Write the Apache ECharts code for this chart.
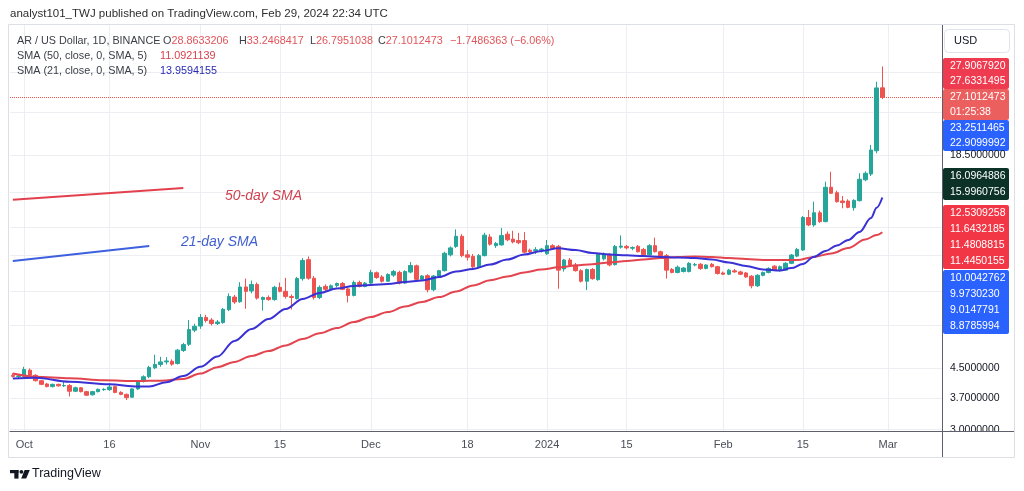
<!DOCTYPE html>
<html>
<head>
<meta charset="utf-8">
<script src="https://cdn.jsdelivr.net/npm/echarts/dist/echarts.min.js"></script>
<style>
html,body{margin:0;padding:0;background:#fff;}
#main{width:1024px;height:491px;}
</style>
</head>
<body>
<div id="main"></div>
<script>
const FONT = '"Liberation Sans", Arial, sans-serif';

// ---------- categories (daily) ----------
const firstDate = '2023-09-29';
const dayCount = 164;
const categories = [];
{
  const t0 = Date.parse(firstDate + 'T00:00:00Z');
  for (let i = 0; i < dayCount; i++) categories.push(new Date(t0 + i * 86400000).toISOString().slice(0, 10));
}

// ---------- axis ticks ----------
const tickDates  = ['2023-10-01','2023-10-16','2023-11-01','2023-11-15','2023-12-01','2023-12-18','2024-01-01','2024-01-15','2024-02-01','2024-02-15','2024-03-01'];
const tickLabels = ['Oct','16','Nov','15','Dec','18','2024','15','Feb','15','Mar'];
const priceGridValues = [3.0, 3.7, 4.5, 6.0, 7.5, 9.5, 11.5, 14.5, 18.5, 24.5, 32.0];
const priceTickLabels = [18.5, 4.5, 3.7, 3.0];

// ---------- candles: [open, high, low, close], daily from 2023-09-29 ----------
const candles = [
[4.30,4.36,4.24,4.27],[4.27,4.33,4.22,4.28],[4.27,4.55,4.24,4.47],[4.45,4.50,4.27,4.30],[4.30,4.33,4.13,4.15],
[4.15,4.17,4.03,4.05],[4.06,4.09,3.97,3.99],[3.99,4.07,3.97,4.05],[4.05,4.07,3.99,4.01],[4.01,4.12,3.98,4.02],
[4.02,4.06,3.74,3.87],[3.87,3.99,3.85,3.96],[3.96,3.98,3.84,3.86],[3.86,3.88,3.75,3.77],[3.78,3.88,3.76,3.86],
[3.86,3.94,3.84,3.92],[3.91,3.95,3.88,3.92],[3.91,4.08,3.88,3.98],[3.99,4.02,3.82,3.84],[3.84,3.87,3.77,3.79],
[3.79,3.81,3.65,3.71],[3.72,3.95,3.70,3.93],[3.93,4.16,3.90,4.13],[4.13,4.30,4.10,4.26],[4.26,4.58,4.22,4.53],
[4.52,4.93,4.48,4.62],[4.62,4.86,4.55,4.70],[4.70,4.85,4.62,4.73],[4.72,4.78,4.58,4.63],[4.65,5.12,4.62,5.08],
[5.07,5.33,5.02,5.27],[5.28,6.20,5.22,5.82],[5.80,6.05,5.72,5.95],[5.96,6.45,5.85,6.31],[6.31,6.42,6.10,6.18],
[6.20,6.28,5.98,6.06],[6.06,6.20,6.00,6.12],[6.10,6.72,6.05,6.66],[6.64,7.40,6.58,7.25],[7.22,7.32,6.90,6.99],
[7.00,7.97,6.95,7.72],[7.72,8.16,6.68,7.50],[7.52,8.05,7.40,7.85],[7.85,7.95,7.10,7.17],[7.10,7.25,6.60,7.20],
[7.20,7.30,7.05,7.10],[7.10,7.78,7.05,7.70],[7.70,7.95,7.45,7.50],[7.50,8.20,7.15,7.25],[7.25,7.35,6.65,7.20],
[7.15,8.25,7.10,8.16],[8.16,9.35,8.05,9.20],[9.25,9.45,8.10,8.18],[8.18,8.30,7.10,7.20],[7.20,7.80,7.12,7.70],
[7.75,7.85,7.50,7.60],[7.60,7.85,7.55,7.78],[7.80,7.95,7.70,7.90],[7.90,7.98,7.55,7.60],[7.62,7.70,6.97,7.30],
[7.30,8.05,7.25,7.95],[7.95,8.05,7.70,7.75],[7.75,7.98,7.70,7.92],[7.92,8.65,7.85,8.50],[8.48,8.55,8.15,8.22],
[8.25,8.35,7.95,8.02],[8.02,8.45,7.98,8.38],[8.35,8.65,8.25,8.55],[8.50,8.60,7.85,7.92],[7.92,8.62,7.88,8.55],
[8.52,9.10,8.45,8.90],[8.88,8.95,8.05,8.12],[8.12,8.35,8.05,8.30],[8.32,8.40,7.45,7.58],[7.58,8.35,7.50,8.30],
[8.30,8.65,8.25,8.60],[8.60,9.75,8.55,9.65],[9.55,10.10,9.45,10.00],[10.10,11.30,10.00,10.80],[10.80,10.95,9.40,9.50],
[9.55,9.85,9.20,9.40],[9.45,9.60,8.70,8.82],[8.82,9.60,8.75,9.50],[9.50,11.05,9.45,10.88],[10.75,10.95,10.15,10.25],
[10.15,10.40,10.00,10.30],[10.20,11.40,10.15,10.85],[10.95,11.15,10.45,10.55],[10.60,11.20,10.30,10.40],[10.50,11.05,10.25,10.35],
[10.50,11.10,9.65,9.72],[9.85,9.95,9.65,9.75],[9.82,10.05,9.60,9.88],[9.88,10.00,9.70,9.92],[9.62,10.54,9.55,10.15],
[10.15,10.25,9.90,9.95],[10.10,10.20,7.63,8.63],[8.70,9.30,8.55,9.23],[9.23,9.35,8.85,8.93],[8.93,9.05,8.55,8.60],
[8.60,8.68,7.95,8.02],[8.02,8.72,7.56,8.67],[8.67,8.75,8.10,8.16],[8.10,9.65,8.05,9.58],[9.30,9.70,9.20,9.60],
[9.58,9.65,8.85,8.93],[8.95,10.20,8.90,10.10],[10.05,10.86,9.95,10.12],[10.10,10.20,9.90,10.00],[9.98,10.10,9.85,10.02],
[10.10,10.20,9.70,9.75],[9.90,10.00,9.50,9.55],[9.55,10.25,9.50,10.15],[10.15,10.70,9.70,9.75],[9.75,9.82,9.40,9.45],
[9.50,9.60,8.16,8.63],[8.67,8.75,8.45,8.50],[8.50,8.90,8.45,8.80],[8.55,8.80,8.50,8.75],[8.55,9.10,8.50,9.03],
[8.93,9.05,8.85,8.95],[8.97,9.05,8.65,8.72],[8.73,8.98,8.68,8.93],[8.97,9.05,8.78,8.83],[8.83,8.88,8.38,8.44],
[8.47,8.55,8.35,8.40],[8.40,8.70,8.35,8.63],[8.59,8.70,8.48,8.53],[8.53,8.60,8.35,8.40],[8.47,8.52,8.20,8.25],
[8.29,8.35,7.65,7.78],[7.78,8.40,7.72,8.34],[8.34,8.55,8.28,8.50],[8.50,8.80,8.45,8.73],[8.86,8.92,8.58,8.63],
[8.60,8.90,8.55,8.83],[8.63,9.10,8.60,9.03],[9.03,9.60,8.98,9.54],[9.47,10.00,9.40,9.90],[9.86,12.35,9.80,12.23],
[12.23,12.85,11.55,11.64],[11.64,13.58,11.50,12.62],[12.62,12.80,11.80,11.90],[11.90,15.50,11.85,14.94],[14.94,16.56,14.30,14.36],
[14.41,14.60,13.50,13.58],[13.64,14.10,13.00,13.50],[13.64,13.80,13.00,13.08],[13.05,13.80,12.80,13.70],[13.67,16.39,13.60,15.75],
[15.70,16.60,15.55,16.39],[16.31,19.78,16.10,19.12],[19.03,30.06,18.71,28.85],[28.8633206,33.2468417,26.7951038,27.1012473]
];
const lastClose = 27.1012473;

// ---------- SMA readings [date, value] ----------
const sma50 = [
['2023-09-29',4.35],['2023-10-03',4.26],['2023-10-09',4.22],['2023-10-15',4.16],['2023-10-21',4.14],['2023-10-25',4.15],
['2023-10-29',4.20],['2023-11-01',4.35],['2023-11-04',4.54],['2023-11-07',4.70],['2023-11-10',4.89],['2023-11-13',5.05],
['2023-11-16',5.24],['2023-11-19',5.47],['2023-11-22',5.68],['2023-11-25',5.88],['2023-11-28',6.12],['2023-12-01',6.33],
['2023-12-04',6.54],['2023-12-07',6.78],['2023-12-10',6.99],['2023-12-13',7.22],['2023-12-16',7.49],['2023-12-19',7.80],
['2023-12-22',8.07],['2023-12-25',8.27],['2023-12-28',8.50],['2023-12-31',8.66],['2024-01-03',8.79],['2024-01-06',8.90],
['2024-01-09',8.98],['2024-01-12',9.08],['2024-01-15',9.17],['2024-01-18',9.26],['2024-01-21',9.35],['2024-01-24',9.42],
['2024-01-27',9.45],['2024-01-30',9.42],['2024-02-02',9.35],['2024-02-05',9.29],['2024-02-08',9.23],['2024-02-11',9.23],
['2024-02-14',9.23],['2024-02-17',9.42],['2024-02-20',9.64],['2024-02-23',9.99],['2024-02-26',10.57],['2024-02-28',10.89],
['2024-02-29',11.0921139]
];
const sma21 = [
['2023-09-29',4.21],['2023-10-03',4.23],['2023-10-09',4.12],['2023-10-16',4.05],['2023-10-21',3.99],['2023-10-23',3.99],
['2023-10-26',4.11],['2023-10-29',4.28],['2023-11-01',4.55],['2023-11-04',4.87],['2023-11-07',5.40],['2023-11-10',5.84],
['2023-11-13',6.24],['2023-11-16',6.67],['2023-11-19',7.13],['2023-11-22',7.42],['2023-11-25',7.64],['2023-11-28',7.77],
['2023-12-01',7.82],['2023-12-04',7.87],['2023-12-07',7.98],['2023-12-10',8.06],['2023-12-13',8.25],['2023-12-16',8.55],
['2023-12-19',8.70],['2023-12-22',8.96],['2023-12-25',9.26],['2023-12-28',9.57],['2023-12-31',9.80],['2024-01-03',9.97],
['2024-01-06',9.86],['2024-01-09',9.67],['2024-01-12',9.57],['2024-01-15',9.52],['2024-01-18',9.48],['2024-01-21',9.42],
['2024-01-24',9.38],['2024-01-27',9.35],['2024-01-30',9.26],['2024-02-02',9.08],['2024-02-05',8.87],['2024-02-08',8.67],
['2024-02-11',8.61],['2024-02-13',8.75],['2024-02-15',8.99],['2024-02-17',9.43],['2024-02-19',9.80],['2024-02-21',10.16],
['2024-02-23',10.54],['2024-02-25',11.11],['2024-02-27',12.19],['2024-02-28',13.05],['2024-02-29',13.9594155]
];

// ---------- drawn annotation segments [date, price] ----------
const annot50Line = [['2023-09-29',13.75],['2023-10-29',14.87]];
const annot21Line = [['2023-09-29',9.17],['2023-10-23',10.12]];

// ---------- texts ----------
const headerText = 'analyst101_TWJ published on TradingView.com, Feb 29, 2024 22:34 UTC';
const symbolTitle = 'AR / US Dollar, 1D, BINANCE';
const ohlcKeys = ['O','H','L','C',''];
const ohlcVals = ['28.8633206','33.2468417','26.7951038','27.1012473','\u22121.7486363 (\u22126.06%)'];
const smaTitles = ['SMA (50, close, 0, SMA, 5)','SMA (21, close, 0, SMA, 5)'];
const smaValues = ['11.0921139','13.9594155'];
const badgeGroups = [
  ['27.9067920','27.6331495'],
  ['27.1012473','01:25:38'],
  ['23.2511465','22.9099992'],
  ['16.0964886','15.9960756'],
  ['12.5309258','11.6432185','11.4808815','11.4450155'],
  ['10.0042762','9.9730230','9.0147791','8.8785994']
];
// styling / layout of the price-scale badges
const badgeLayout = [
  {bg:'#ef3b50', top:58,  row:15.5},
  {bg:'#ec5f5f', top:89,  row:15.5},
  {bg:'#2962ff', top:120, row:15.5},
  {bg:'#0c3127', top:168, row:16},
  {bg:'#f23645', top:205, row:16},
  {bg:'#2962ff', top:270, row:16}
];

const C_UP = '#26a69a', C_DOWN = '#ef5350';
const GRIDLINE = '#eceef2';
const AXIS = '#5d606b';

const chart = echarts.init(document.getElementById('main'), null, {renderer: 'canvas'});
const isTick = (i, v) => tickDates.indexOf(v) >= 0;

const option = {
  animation: false,
  backgroundColor: '#ffffff',
  textStyle: {fontFamily: FONT},
  grid: {left: 10, right: 82, top: 25, bottom: 60, containLabel: false, outerBoundsMode: 'none'},
  xAxis: {
    type: 'category', data: categories, boundaryGap: true,
    axisLine: {show: true, onZero: false, lineStyle: {color: AXIS, width: 1}},
    axisTick: {show: false},
    axisLabel: {
      interval: isTick,
      formatter: v => { const k = tickDates.indexOf(v); return k >= 0 ? tickLabels[k] : ''; },
      color: '#4a4d57', fontSize: 11, margin: 8, fontFamily: FONT, hideOverlap: false
    },
    splitLine: {show: true, interval: isTick, alignWithLabel: true, lineStyle: {color: GRIDLINE, width: 1}}
  },
  yAxis: {
    type: 'log', logBase: 10, min: 2.974, max: 43.76, position: 'right',
    axisLine: {show: true, lineStyle: {color: AXIS, width: 1}},
    axisTick: {show: false}, axisLabel: {show: false}, splitLine: {show: false}
  },
  series: [
    {
      type: 'line', data: [], silent: true, z: 1,
      markLine: {
        silent: true, z: 1, symbol: ['none','none'], label: {show: false}, emphasis: {disabled: true},
        lineStyle: {color: GRIDLINE, width: 1, type: 'solid'},
        data: priceGridValues.map(v => ({yAxis: v}))
      }
    },
    {
      type: 'candlestick', z: 3, barWidth: 4,
      data: candles.map(r => [r[0], r[3], r[2], r[1]]),
      itemStyle: {color: C_UP, color0: C_DOWN, borderColor: C_UP, borderColor0: C_DOWN, borderWidth: 1},
      markLine: {
        silent: true, z: 2, symbol: ['none','none'], label: {show: false}, emphasis: {disabled: true},
        lineStyle: {color: '#ef5350', width: 1, type: 'dotted'},
        data: [{yAxis: lastClose}]
      }
    },
    {
      type: 'line', data: sma50, smooth: 0.35, smoothMonotone: 'x', symbol: 'none', showSymbol: false, silent: true, z: 4,
      lineStyle: {color: '#e2454f', width: 2}
    },
    {
      type: 'line', data: sma21, smooth: 0.35, smoothMonotone: 'x', symbol: 'none', showSymbol: false, silent: true, z: 5,
      lineStyle: {color: '#3a31d4', width: 2}
    },
    {
      type: 'line', data: [], silent: true, z: 4,
      markLine: {
        silent: true, z: 4, symbol: ['none','none'], label: {show: false}, emphasis: {disabled: true},
        data: [
          [{coord: annot50Line[0], lineStyle: {color: '#e3404e', width: 2, type: 'solid'}}, {coord: annot50Line[1]}],
          [{coord: annot21Line[0], lineStyle: {color: '#3d60de', width: 2, type: 'solid'}}, {coord: annot21Line[1]}]
        ]
      }
    }
  ]
};
chart.setOption(option);

// ---------- overlay text / frame ----------
const yPix = v => chart.convertToPixel({yAxisIndex: 0}, v);
const g = [];
const txt = (x, y, text, fill, size, extra) => g.push(Object.assign({
  type: 'text', x: x, y: y, silent: true, z: 10,
  style: Object.assign({text: text, fill: fill, font: size + 'px ' + FONT, verticalAlign: 'middle', align: 'left'}, (extra && extra.style) || {})
}, extra && extra.el || {}));

// frame
g.push({type: 'rect', silent: true, z: 30, shape: {x: 8.5, y: 24.5, width: 1006, height: 433}, style: {fill: 'none', stroke: '#dcdfe6', lineWidth: 1}});

// header
txt(10, 14, headerText, '#2e2e2e', 11.5);

// legend
txt(17, 41, symbolTitle, '#3b3e47', 10.8);
const ohlcX = [163, 239, 310, 378, 450];
ohlcKeys.forEach((k, i) => {
  g.push({type: 'text', x: ohlcX[i], y: 41, silent: true, z: 10,
    style: {text: (k ? '{k|' + k + '}' : '') + '{v|' + ohlcVals[i] + '}', verticalAlign: 'middle', font: '10.8px ' + FONT,
      rich: {k: {fill: '#3b3e47', font: '10.8px ' + FONT}, v: {fill: '#e2545a', font: '10.8px ' + FONT}}}});
});
txt(17, 56, smaTitles[0], '#3b3e47', 10.8);
txt(160, 56, smaValues[0], '#d9404d', 10.8);
txt(17, 71, smaTitles[1], '#3b3e47', 10.8);
txt(160, 71, smaValues[1], '#2a2ab5', 10.8);

// annotation texts
txt(225, 196, '50-day SMA', '#cf4350', 14, {style: {font: 'italic 14px ' + FONT}});
txt(181, 242, '21-day SMA', '#3f5fcf', 14, {style: {font: 'italic 14px ' + FONT}});

// USD box
g.push({type: 'rect', silent: true, z: 10, shape: {x: 944.5, y: 29.5, width: 65, height: 23, r: 4}, style: {fill: '#ffffff', stroke: '#e0e3eb', lineWidth: 1}});
txt(954, 41, 'USD', '#131722', 11);

// price-scale badges
badgeGroups.forEach((rows, gi) => {
  const L = badgeLayout[gi];
  g.push({type: 'rect', silent: true, z: 11, shape: {x: 943, y: L.top, width: 66, height: rows.length * L.row, r: 2}, style: {fill: L.bg}});
  rows.forEach((t, ri) => txt(950, L.top + L.row * (ri + 0.5), t, '#ffffff', 10.5, {el: {z: 12}}));
});

// plain tick labels
priceTickLabels.forEach(v => txt(950, yPix(v), v.toFixed(7), '#131722', 10.5, {el: {z: 12}}));

// cover below plot in price scale, then scale lines
g.push({type: 'rect', silent: true, z: 20, shape: {x: 943, y: 432, width: 71, height: 25}, style: {fill: '#ffffff'}});
g.push({type: 'line', silent: true, z: 21, shape: {x1: 942, y1: 431.5, x2: 1014, y2: 431.5}, style: {stroke: AXIS, lineWidth: 1}});
g.push({type: 'line', silent: true, z: 21, shape: {x1: 942.5, y1: 431, x2: 942.5, y2: 458}, style: {stroke: AXIS, lineWidth: 1}});

// TradingView logo
g.push({type: 'rect', silent: true, z: 10, shape: {x: 10, y: 470, width: 8.5, height: 3.2}, style: {fill: '#131722'}});
g.push({type: 'rect', silent: true, z: 10, shape: {x: 14.3, y: 470, width: 4.2, height: 8.6}, style: {fill: '#131722'}});
g.push({type: 'circle', silent: true, z: 10, shape: {cx: 21.4, cy: 471.8, r: 1.9}, style: {fill: '#131722'}});
g.push({type: 'polygon', silent: true, z: 10, shape: {points: [[24.6,470],[29.8,470],[26.2,478.6],[21.2,478.6]]}, style: {fill: '#131722'}});
txt(32, 474, 'TradingView', '#131722', 12.5);

chart.setOption({graphic: {elements: g}});
</script>
</body>
</html>
